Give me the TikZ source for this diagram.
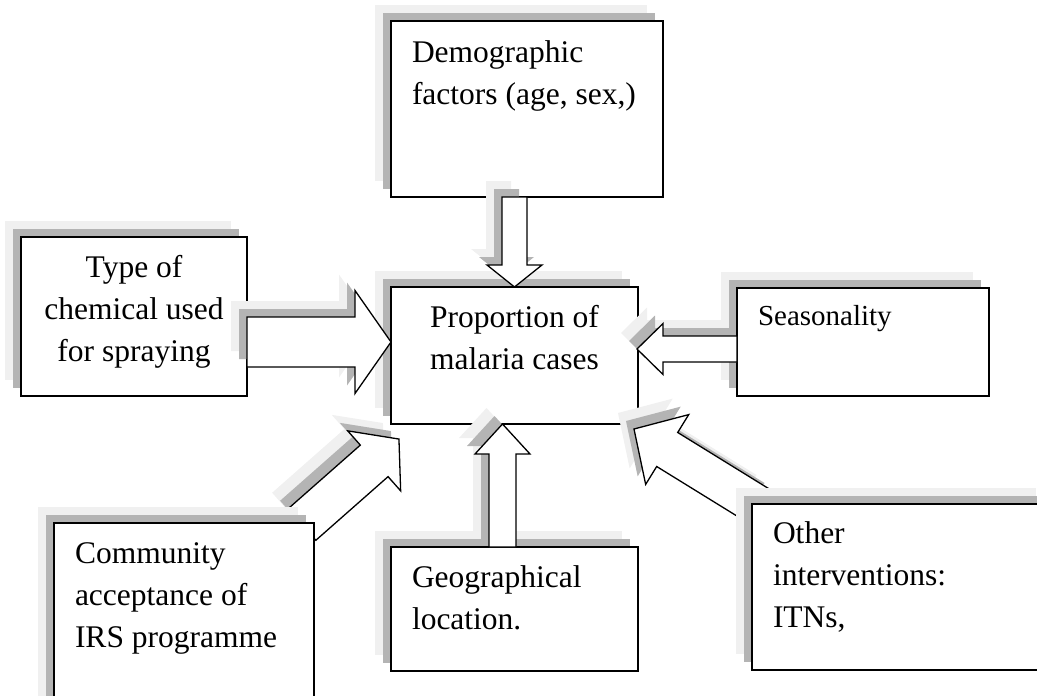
\documentclass[tikz,border=0pt]{standalone}
\usepackage{fontspec}
\setmainfont{Liberation Serif}
\usetikzlibrary{calc,shadows}
\definecolor{shdark}{RGB}{180,180,180}
\definecolor{shlight}{RGB}{240,240,240}
\pgfdeclarelayer{bglayer}
\pgfdeclarelayer{midlayer}
\pgfsetlayers{bglayer,midlayer,main}
\tikzset{
  box/.style={rectangle, draw=black, fill=white, line width=1.5pt, anchor=north west,
    inner sep=0pt, outer sep=0pt,
    general shadow={fill=shlight, draw=none, shadow xshift=-16pt, shadow yshift=16pt},
    general shadow={fill=shdark, draw=none, shadow xshift=-8pt, shadow yshift=8pt}},
  txt/.style={inner sep=0pt, outer sep=0pt, font=\fontsize{31.5}{42}\selectfont},
  arrshl/.style={fill=shlight},
  arrshd/.style={fill=shdark},
  arrbody/.style={fill=white, draw=black, line width=1.3pt, line join=miter},
}
% block arrow: #1 tail, #2 tip, #3 half shaft width, #4 half head width, #5 head length
\newcommand\blockarrow[5]{%
  \path let \p1=#1, \p2=#2 in
    \pgfextra{\pgfmathsetmacro\baAng{atan2((\y2)-(\y1),(\x2)-(\x1))}%
      \pgfmathsetmacro\baLen{veclen((\x2)-(\x1),(\y2)-(\y1))}%
      \xdef\BAang{\baAng}\xdef\BAlen{\baLen}};
  \foreach \off/\sty in {16/arrshl, 8/arrshd, 0/arrbody}{%
    \path[\sty, shift={($#1+(-\off,-\off)$)}, rotate=\BAang]
      (0,-#3) -- (\BAlen-#5,-#3) -- (\BAlen-#5,-#4) -- (\BAlen,0)
      -- (\BAlen-#5,#4) -- (\BAlen-#5,#3) -- (0,#3) -- cycle;
  }%
}
\newcommand\lft[1]{\begin{tabular}[t]{@{}l@{}}#1\end{tabular}}
\newcommand\ctr[1]{\begin{tabular}[t]{@{}c@{}}#1\end{tabular}}
\begin{document}
\begin{tikzpicture}[x=1pt,y=-1pt]
\useasboundingbox (0,0) rectangle (1037,696);
\begin{pgfonlayer}{bglayer}
\node[box, minimum width=272pt, minimum height=176pt] (demo) at (391,21) {};
\node[box, minimum width=226pt, minimum height=159pt] (type) at (21,237) {};
\node[box, minimum width=247pt, minimum height=137pt] (center) at (391,287) {};
\node[box, minimum width=252pt, minimum height=108pt] (seas) at (737,288) {};
\node[box, minimum width=247pt, minimum height=124pt] (geo) at (391,547) {};
\end{pgfonlayer}
\node[box, minimum width=260pt, minimum height=190pt] (comm) at (54,523) {};
\node[box, minimum width=300pt, minimum height=166pt] (other) at (752,504) {};

\node[txt, anchor=base west] (demoT) at (412,62) {\lft{Demographic\\factors (age, sex,)}};
\node[txt, anchor=base] (typeT) at (134,277) {\ctr{Type of\\chemical used\\for spraying}};
\node[txt, anchor=base] (centerT) at (514.5,327.5) {\ctr{Proportion of\\malaria cases}};
\node[txt, anchor=base west, font=\fontsize{29}{42}\selectfont] (seasT) at (758,325) {Seasonality};
\node[txt, anchor=base west] (commT) at (75,563) {\lft{Community\\acceptance of\\IRS programme}};
\node[txt, anchor=base west] (geoT) at (412,587) {\lft{Geographical\\location.}};
\node[txt, anchor=base west] (otherT) at (773,543) {\lft{Other\\interventions:\\ITNs,}};

\coordinate (dTail) at (demo.south -| center.north);
\coordinate (dTip) at (center.north);
\coordinate (tTip) at ($(center.west)+(0,-13.5)$);
\coordinate (tTail) at (type.east |- tTip);
\coordinate (sTip) at ($(center.east)+(-1,-6.5)$);
\coordinate (sTail) at (seas.west |- sTip);
\coordinate (uTail) at ($(geo.north)+(-12,0)$);
\coordinate (uTip) at (uTail |- center.south);
\coordinate (cTip) at ($(center.south west)+(8,15)$);
\coordinate (cTail) at ($(comm.north east)+(-12,1.5)$);
\coordinate (oTip) at ($(center.south east)+(-4,5)$);
\coordinate (oTail) at ($(other.north west)+(10,4)$);

\begin{pgfonlayer}{midlayer}
\blockarrow{(dTail)}{(dTip)}{12.5}{27.5}{22}
\blockarrow{(tTail)}{(tTip)}{25}{51.5}{36}
\blockarrow{(sTail)}{(sTip)}{13}{25.5}{26}
\blockarrow{(uTail)}{(uTip)}{13.5}{27.5}{30}
\blockarrow{(cTail)}{(cTip)}{21}{40}{33}
\blockarrow{(oTail)}{(oTip)}{20}{41}{39}
\end{pgfonlayer}
\end{tikzpicture}
\end{document}
